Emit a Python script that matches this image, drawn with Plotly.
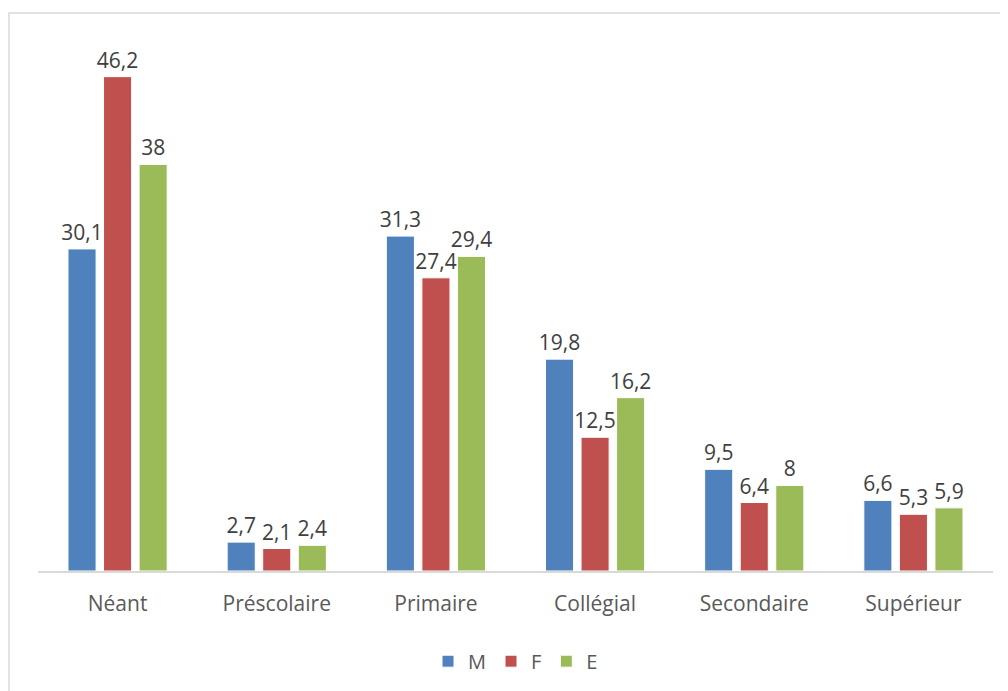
import plotly.graph_objects as go

categories = ["Néant", "Préscolaire", "Primaire", "Collégial", "Secondaire", "Supérieur"]
series_names = ["M", "F", "E"]
values_M = [30.1, 2.7, 31.3, 19.8, 9.5, 6.6]
values_F = [46.2, 2.1, 27.4, 12.5, 6.4, 5.3]
values_E = [38, 2.4, 29.4, 16.2, 8, 5.9]
colors = ["#4F81BD", "#C0504D", "#9BBB59"]

def fmt(v):
    s = ("%g" % v)
    return s.replace(".", ",")

fig = go.Figure()
for name, vals, col in zip(series_names, [values_M, values_F, values_E], colors):
    fig.add_trace(go.Bar(
        x=categories, y=vals, name=name,
        marker=dict(color=col, line=dict(color="white", width=1)),
        text=[fmt(v) for v in vals], textposition="outside",
        constraintext="none",
        textfont=dict(size=21, color="#404040"),
        cliponaxis=False,
    ))

fig.update_layout(
    width=1000, height=683,
    paper_bgcolor="white", plot_bgcolor="white",
    font=dict(family="Open Sans, Liberation Sans, sans-serif", color="#595959", size=20),
    barmode="group", bargap=0.33, bargroupgap=0.21,
    margin=dict(l=30, r=15, t=28, b=119),
    showlegend=True,
    legend=dict(orientation="h", x=0.5, xanchor="center", y=-0.13, yanchor="top",
                font=dict(size=20, color="#595959"), itemwidth=30, traceorder="normal"),
    xaxis=dict(showline=True, linecolor="#D9D9D9", linewidth=1.5, ticks="",
               tickfont=dict(size=21, color="#595959"), ticklabelstandoff=13),
    yaxis=dict(range=[0, 50], visible=False, showgrid=False),
    shapes=[dict(type="rect", xref="paper", yref="paper",
                 x0=-0.0304, x1=1.03, y0=-0.3, y1=1.043,
                 line=dict(color="#D9D9D9", width=1.5), fillcolor="rgba(0,0,0,0)", layer="below")],
)

fig.write_html("out.html")
